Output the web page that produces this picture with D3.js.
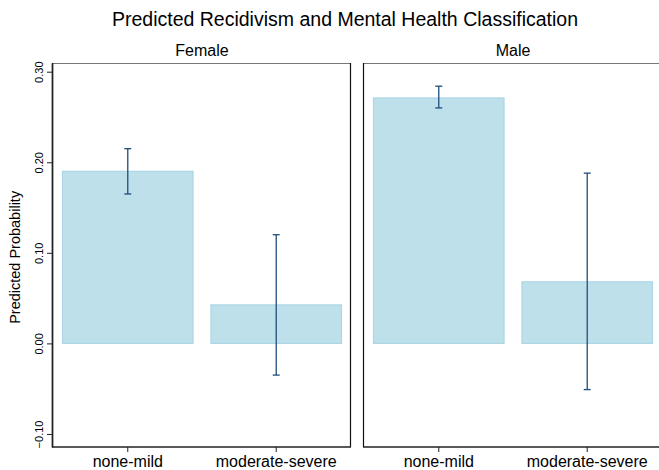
<!DOCTYPE html>
<html>
<head>
<meta charset="utf-8">
<script src="https://cdn.jsdelivr.net/npm/d3@7"></script>
<style>
  body { margin: 0; background: #fff; }
  text { font-family: "Liberation Sans", Arial, sans-serif; fill: #000; }
</style>
</head>
<body>
<div id="chart"></div>
<script>
// Data
var panels = ["Female", "Male"];
var categories = ["none-mild", "moderate-severe"];
var estimates = [[0.190, 0.0425], [0.271, 0.068]];
var lowerCI = [[0.165, -0.035], [0.260, -0.051]];
var upperCI = [[0.215, 0.120], [0.284, 0.188]];
var yTicks = [-0.10, 0.00, 0.10, 0.20, 0.30];

var svgWidth = 659;
var svgHeight = 470;

var svg = d3.select("#chart")
    .append("svg")
    .attr("width", svgWidth)
    .attr("height", svgHeight);

// panel positions (right panel runs past the edge)
var panelLeft = [52, 363];
var panelWidth = 299;
var plotTop = 63;
var plotBottom = 447;

var yScale = d3.scaleLinear()
    .domain([-0.1144, 0.3096])
    .range([plotBottom, plotTop]);

// Title
svg.append("text")
    .attr("x", 345)
    .attr("y", 26)
    .attr("text-anchor", "middle")
    .style("font-size", "19.5px")
    .text("Predicted Recidivism and Mental Health Classification");

// Y label
svg.append("text")
    .attr("transform", `translate(20, ${yScale(0.095)}) rotate(-90)`)
    .attr("text-anchor", "middle")
    .style("font-size", "14.5px")
    .text("Predicted Probability");

panels.forEach(function(p, i) {
    var g = svg.append("g")
        .attr("transform", `translate(${panelLeft[i]}, 0)`);

    var xScale = d3.scaleBand()
        .domain(categories)
        .range([10, 290])
        .paddingInner(0.114)
        .paddingOuter(0);

    var bw = xScale.bandwidth();

    // strip label
    g.append("text")
        .attr("x", 150)
        .attr("y", 56)
        .attr("text-anchor", "middle")
        .style("font-size", "16px")
        .text(p);

    // bars
    g.selectAll("rect.bar")
        .data(categories)
        .enter()
        .append("rect")
        .attr("class", "bar")
        .attr("x", d => xScale(d) + 0.5)
        .attr("width", bw - 1)
        .attr("y", (d, j) => yScale(estimates[i][j]))
        .attr("height", (d, j) => yScale(0) - yScale(estimates[i][j]))
        .attr("fill", "#bee0ea")
        .attr("stroke", "#acd6e5")
        .attr("stroke-width", 1.2);

    // error bars
    var eb = g.selectAll("g.err")
        .data(categories)
        .enter()
        .append("g")
        .attr("class", "err")
        .attr("transform", d => `translate(${xScale(d) + bw / 2}, 0)`);

    eb.append("line")
        .attr("y1", (d, j) => yScale(lowerCI[i][j]))
        .attr("y2", (d, j) => yScale(upperCI[i][j]))
        .attr("stroke", "#1f4e79")
        .attr("stroke-width", 1.3);

    eb.append("line")
        .attr("x1", -3.5).attr("x2", 3.5)
        .attr("y1", (d, j) => yScale(lowerCI[i][j]))
        .attr("y2", (d, j) => yScale(lowerCI[i][j]))
        .attr("stroke", "#1f4e79")
        .attr("stroke-width", 1.3);

    eb.append("line")
        .attr("x1", -3.5).attr("x2", 3.5)
        .attr("y1", (d, j) => yScale(upperCI[i][j]))
        .attr("y2", (d, j) => yScale(upperCI[i][j]))
        .attr("stroke", "#1f4e79")
        .attr("stroke-width", 1.3);

    // frame: grey top, dark sides
    g.append("line")
        .attr("x1", 0).attr("x2", panelWidth)
        .attr("y1", plotTop + 0.5).attr("y2", plotTop + 0.5)
        .attr("stroke", "#777")
        .attr("stroke-width", 1.2);
    g.append("line")
        .attr("x1", panelWidth - 0.5).attr("x2", panelWidth - 0.5)
        .attr("y1", plotTop).attr("y2", plotBottom)
        .attr("stroke", "#111")
        .attr("stroke-width", 1.2);
    g.append("line")
        .attr("x1", 0.5).attr("x2", 0.5)
        .attr("y1", plotTop).attr("y2", plotBottom)
        .attr("stroke", "#111")
        .attr("stroke-width", 1.2);

    // x axis
    var xAxis = g.append("g")
        .attr("transform", `translate(0, ${plotBottom})`)
        .call(d3.axisBottom(xScale).tickSize(5).tickSizeOuter(0).tickPadding(4));
    xAxis.select(".domain")
        .attr("d", `M0,0H${panelWidth}`)
        .attr("stroke", "#222").attr("stroke-width", 1.6);
    xAxis.selectAll(".tick line").attr("stroke", "#222");
    xAxis.selectAll(".tick text")
        .style("font-size", "16px")
        .attr("fill", "#000");

    // y axis on first panel only
    if (i === 0) {
        var yAxis = g.append("g")
            .call(d3.axisLeft(yScale).tickValues(yTicks).tickSize(5).tickSizeOuter(0).tickFormat(d3.format(".2f")));
        yAxis.select(".domain").attr("stroke", "#222").attr("stroke-width", 1.6);
        yAxis.selectAll(".tick line").attr("stroke", "#222");
        yAxis.selectAll(".tick text")
            .attr("transform", "rotate(-90)")
            .attr("x", 0)
            .attr("y", -9)
            .attr("dy", "0")
            .attr("text-anchor", "middle")
            .style("font-size", "11px")
            .attr("fill", "#000");
    }
});
</script>
</body>
</html>
